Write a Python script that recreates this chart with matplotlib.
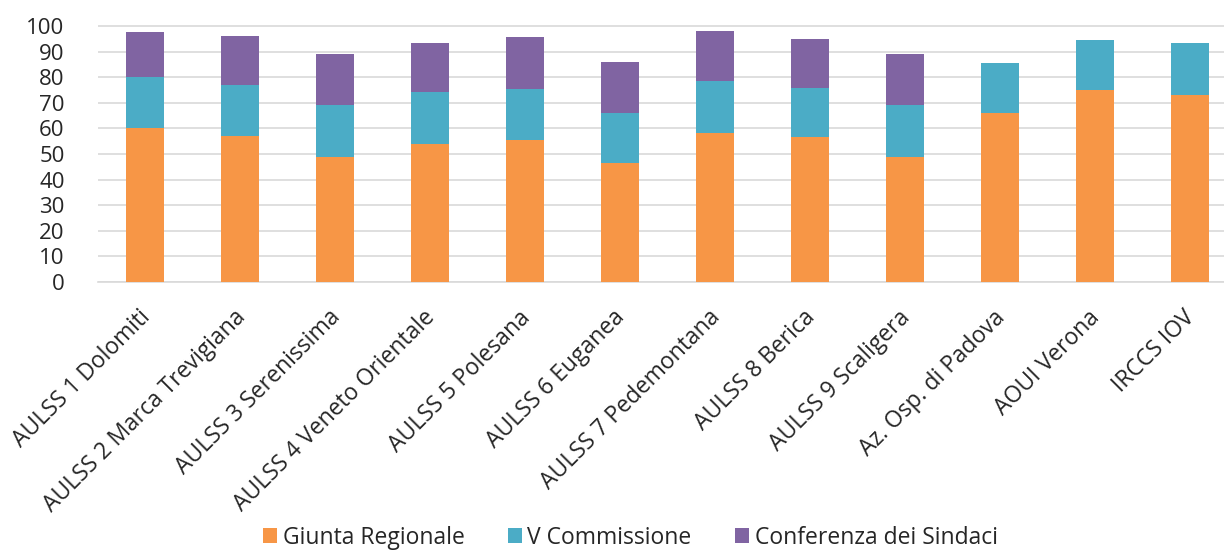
import matplotlib
matplotlib.use("Agg")
import matplotlib.pyplot as plt
import matplotlib.transforms as mtransforms
import numpy as np

categories = ["AULSS 1 Dolomiti", "AULSS 2 Marca Trevigiana", "AULSS 3 Serenissima",
              "AULSS 4 Veneto Orientale", "AULSS 5 Polesana", "AULSS 6 Euganea",
              "AULSS 7 Pedemontana", "AULSS 8 Berica", "AULSS 9 Scaligera",
              "Az. Osp. di Padova", "AOUI Verona", "IRCCS IOV"]
giunta = [60.0, 57.0, 48.7, 53.9, 55.5, 46.6, 58.3, 56.5, 48.7, 66.0, 75.1, 73.0]
commissione = [20.0, 20.1, 20.3, 20.2, 20.0, 19.4, 20.2, 19.4, 20.3, 19.5, 19.4, 20.3]
conferenza = [17.5, 19.0, 19.9, 19.4, 20.1, 19.9, 19.5, 19.1, 20.2, 0, 0, 0]
series_names = ["Giunta Regionale", "V Commissione", "Conferenza dei Sindaci"]
yticks = list(range(0, 101, 10))

colors = ["#F79646", "#4BACC6", "#8064A2"]

plt.rcParams['font.family'] = ['Open Sans', 'DejaVu Sans']

fig = plt.figure(figsize=(12.24, 5.51), dpi=100)
ax = fig.add_axes([0.080, 0.4882, 1.0 - 0.080, 0.9552 - 0.4882])

x = np.arange(len(categories))
w = 0.4
b1 = np.array(giunta)
b2 = b1 + np.array(commissione)
ax.bar(x, giunta, width=w, color=colors[0], label=series_names[0], zorder=3)
ax.bar(x, commissione, width=w, bottom=b1, color=colors[1], label=series_names[1], zorder=3)
ax.bar(x, conferenza, width=w, bottom=b2, color=colors[2], label=series_names[2], zorder=3)

ax.set_xlim(-0.5, 11.36)
ax.set_ylim(0, 100.5)
ax.set_yticks(yticks)
ax.set_yticklabels([str(v) for v in yticks], fontsize=16, color="#262626")
ax.yaxis.grid(True, color="#D9D9D9", linewidth=1.2, zorder=0)
ax.set_axisbelow(True)
for s in ["top", "right", "left"]:
    ax.spines[s].set_visible(False)
ax.spines["bottom"].set_color("#D9D9D9")
ax.spines["bottom"].set_linewidth(1.2)
ax.tick_params(axis="y", length=0, pad=24)
ax.set_xticks(x)
ax.set_xticklabels(categories, rotation=45, ha="right", rotation_mode="anchor",
                   fontsize=16.5, color="#262626")
ax.tick_params(axis="x", length=0, pad=17)
offset = mtransforms.ScaledTranslation(-7 / 100, 0, fig.dpi_scale_trans)
for lbl in ax.get_xticklabels():
    lbl.set_transform(lbl.get_transform() + offset)

handles, labels = ax.get_legend_handles_labels()
fig.legend(handles, labels, loc="center", bbox_to_anchor=(0.515, 0.024), ncol=3,
           frameon=False, fontsize=16.5, handlelength=0.6, handleheight=0.6,
           handletextpad=0.25, columnspacing=1.9, labelcolor="#262626")

fig.savefig("out.png", dpi=100)
